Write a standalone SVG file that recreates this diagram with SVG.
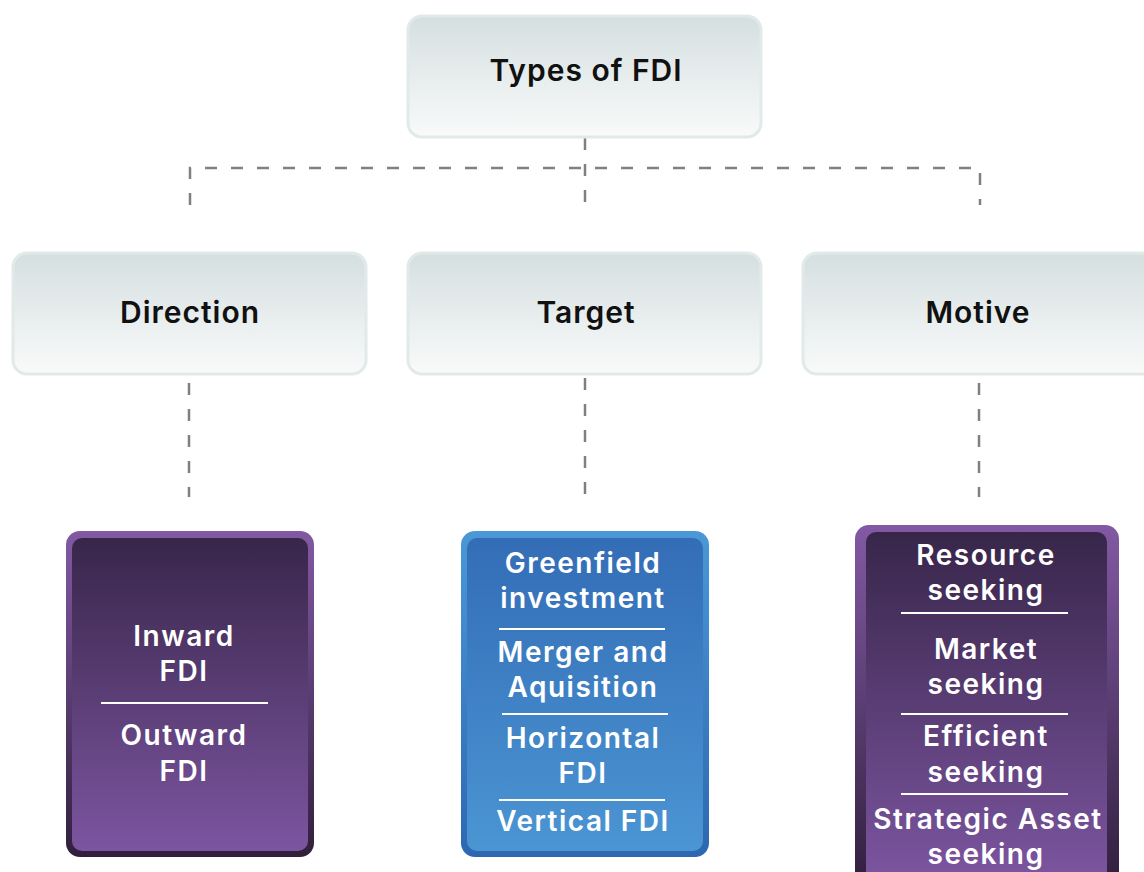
<svg xmlns="http://www.w3.org/2000/svg" width="1144" height="872" viewBox="0 0 1144 872">
<defs>
<linearGradient id="gLight" x1="0" y1="0" x2="0" y2="1"><stop offset="0" stop-color="#d5dfe0"/><stop offset="1" stop-color="#f9fafa"/></linearGradient>
<linearGradient id="gPurpOuter" x1="0" y1="0" x2="0" y2="1"><stop offset="0" stop-color="#8259a3"/><stop offset="0.5" stop-color="#5a3d72"/><stop offset="1" stop-color="#311f3c"/></linearGradient>
<linearGradient id="gPurpInner" x1="0" y1="0" x2="0" y2="1"><stop offset="0" stop-color="#38264a"/><stop offset="1" stop-color="#7c55a0"/></linearGradient>
<linearGradient id="gBlueOuter" x1="0" y1="0" x2="0" y2="1"><stop offset="0" stop-color="#4a98d6"/><stop offset="1" stop-color="#2c68b2"/></linearGradient>
<linearGradient id="gBlueInner" x1="0" y1="0" x2="0" y2="1"><stop offset="0" stop-color="#336db6"/><stop offset="1" stop-color="#4b95d3"/></linearGradient>
</defs>
<style>
.light{fill:url(#gLight);stroke:#e2eae9;stroke-width:3}
.hd{font-family:Inter,"DejaVu Sans",sans-serif;font-weight:600;font-size:30px;letter-spacing:1px;fill:#111;text-anchor:middle}
.it{font-family:Inter,"DejaVu Sans",sans-serif;font-weight:600;font-size:28px;letter-spacing:1.5px;fill:#fff;text-anchor:middle}
.dv{stroke:#fff;stroke-width:2}
.dash{fill:none;stroke:#808080;stroke-width:2.5;stroke-dasharray:12 14}
</style>
<g id="connectors">
<path class="dash" d="M585,138 V205"/>
<path class="dash" d="M190,205 V168 H980 V205"/>
<path class="dash" d="M189,383 V497"/>
<path class="dash" d="M585,378 V505"/>
<path class="dash" d="M979,383 V497"/>
</g>
<g id="types">
<rect class="light" x="408" y="16" width="353" height="121" rx="14"/>
<text class="hd" x="586" y="81">Types of FDI</text>
</g>
<g id="direction">
<rect class="light" x="13" y="253" width="353" height="121" rx="14"/>
<text class="hd" x="190" y="323">Direction</text>
</g>
<g id="target">
<rect class="light" x="408" y="253" width="353" height="121" rx="14"/>
<text class="hd" x="586" y="323">Target</text>
</g>
<g id="motive">
<rect class="light" x="803" y="253" width="353" height="121" rx="14"/>
<text class="hd" x="978" y="323">Motive</text>
</g>
<g id="direction-items">
<rect x="66" y="531" width="248" height="326" rx="14" fill="url(#gPurpOuter)"/>
<rect x="72" y="538" width="236" height="313" rx="10" fill="url(#gPurpInner)"/>
<text class="it" x="184" y="646">Inward</text>
<text class="it" x="184" y="681">FDI</text>
<line class="dv" x1="101" y1="703" x2="268" y2="703"/>
<text class="it" x="184" y="745">Outward</text>
<text class="it" x="184" y="781">FDI</text>
</g>
<g id="target-items">
<rect x="461" y="531" width="248" height="326" rx="14" fill="url(#gBlueOuter)"/>
<rect x="467" y="538" width="236" height="313" rx="10" fill="url(#gBlueInner)"/>
<text class="it" x="583" y="573">Greenfield</text>
<text class="it" x="583" y="608">investment</text>
<line class="dv" x1="499" y1="629" x2="665" y2="629"/>
<text class="it" x="583" y="662">Merger and</text>
<text class="it" x="583" y="697">Aquisition</text>
<line class="dv" x1="502" y1="714" x2="668" y2="714"/>
<text class="it" x="583" y="748">Horizontal</text>
<text class="it" x="583" y="783">FDI</text>
<line class="dv" x1="499" y1="800" x2="665" y2="800"/>
<text class="it" x="583" y="831">Vertical FDI</text>
</g>
<g id="motive-items">
<rect x="855" y="525" width="264" height="362" rx="14" fill="url(#gPurpOuter)"/>
<rect x="866" y="532" width="241" height="350" rx="10" fill="url(#gPurpInner)"/>
<text class="it" x="986" y="565">Resource</text>
<text class="it" x="986" y="600">seeking</text>
<line class="dv" x1="901" y1="613" x2="1068" y2="613"/>
<text class="it" x="986" y="659">Market</text>
<text class="it" x="986" y="694">seeking</text>
<line class="dv" x1="901" y1="714" x2="1068" y2="714"/>
<text class="it" x="986" y="746">Efficient</text>
<text class="it" x="986" y="782">seeking</text>
<line class="dv" x1="901" y1="794" x2="1068" y2="794"/>
<text class="it" x="988" y="829">Strategic Asset</text>
<text class="it" x="986" y="864">seeking</text>
</g>
</svg>
